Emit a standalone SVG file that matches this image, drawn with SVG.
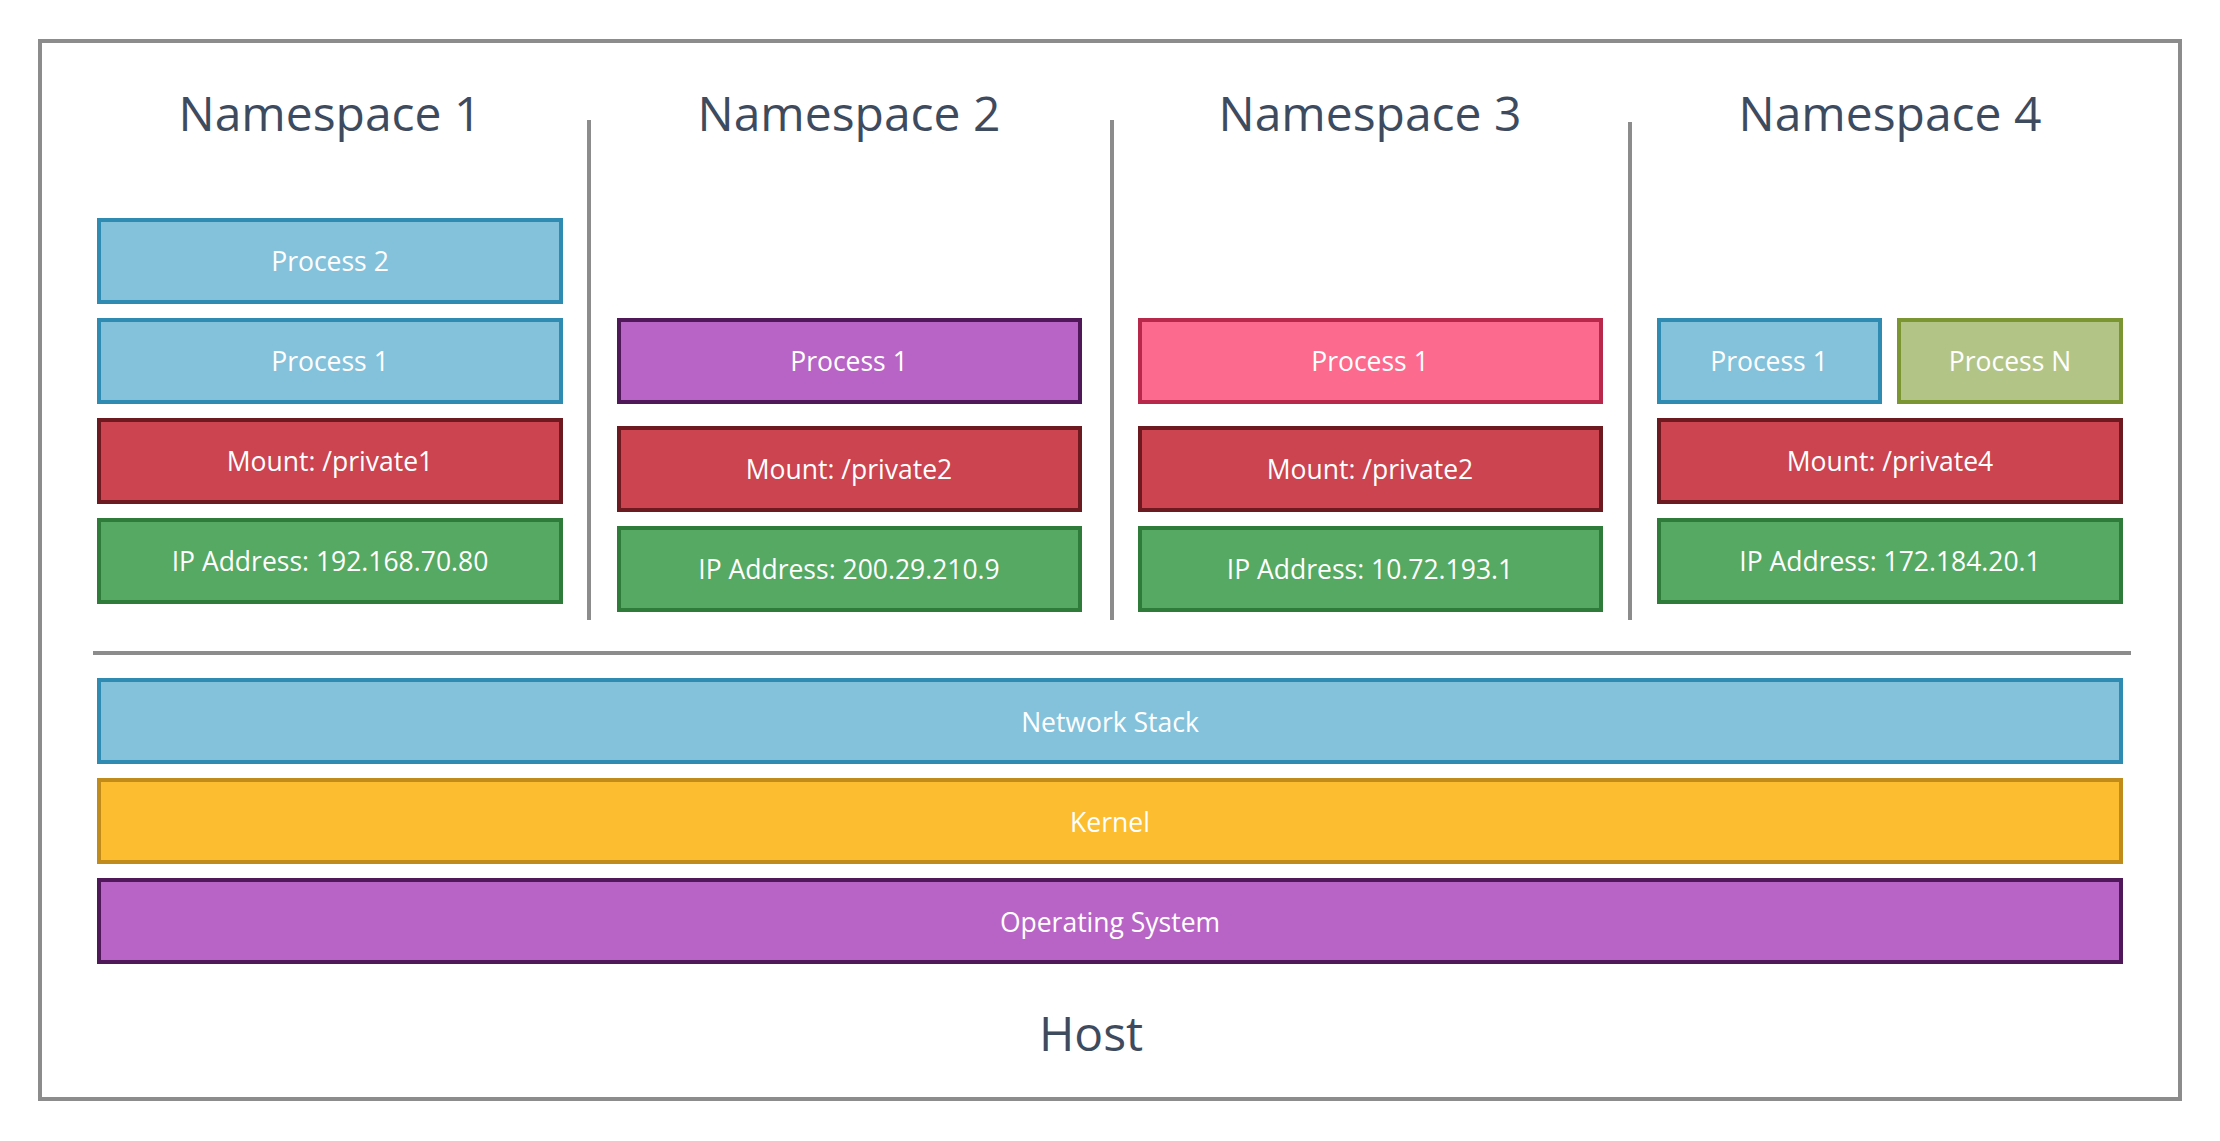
<svg xmlns="http://www.w3.org/2000/svg" width="2220" height="1141" viewBox="0 0 2220 1141">
<style>
  .title { font-family: "Open Sans", "Noto Sans", sans-serif; font-size: 48px; fill: #3e4b5e; text-anchor: middle; }
  .lbl { font-family: "Open Sans", "Noto Sans", sans-serif; font-size: 26.5px; fill: #ffffff; text-anchor: middle; }
  .box { stroke-width: 4; }
  .blue { fill: #84c2dc; stroke: #2f8bb1; }
  .purple { fill: #b864c6; stroke: #4f1859; }
  .pink { fill: #fc6a8d; stroke: #b8284a; }
  .red { fill: #cb444f; stroke: #6c1a1f; }
  .green { fill: #55a962; stroke: #2f7b39; }
  .olive { fill: #b2c587; stroke: #7a9532; }
  .orange { fill: #fcbd30; stroke: #c08b1b; }
  .line { stroke: #8c8c8c; stroke-width: 4; fill: none; }
</style>
<rect width="2220" height="1141" fill="#ffffff"/>
<g id="host">
  <rect class="line" x="40" y="41" width="2140" height="1058"/>
  <text class="title" x="1091" y="1051">Host</text>
</g>
<g id="connectors">
  <line class="line" x1="589" y1="120" x2="589" y2="620"/>
  <line class="line" x1="1112" y1="120" x2="1112" y2="620"/>
  <line class="line" x1="1630" y1="122" x2="1630" y2="620"/>
  <line class="line" x1="93" y1="653" x2="2131" y2="653"/>
</g>
<g id="ns1">
  <text class="title" x="330" y="131">Namespace 1</text>
  <g id="ns1-process2"><rect class="box blue" x="99" y="220" width="462" height="82"/><text class="lbl" x="330" y="271">Process 2</text></g>
  <g id="ns1-process1"><rect class="box blue" x="99" y="320" width="462" height="82"/><text class="lbl" x="330" y="371">Process 1</text></g>
  <g id="ns1-mount"><rect class="box red" x="99" y="420" width="462" height="82"/><text class="lbl" x="330" y="471">Mount: /private1</text></g>
  <g id="ns1-ip"><rect class="box green" x="99" y="520" width="462" height="82"/><text class="lbl" x="330" y="571">IP Address: 192.168.70.80</text></g>
</g>
<g id="ns2">
  <text class="title" x="849" y="131">Namespace 2</text>
  <g id="ns2-process1"><rect class="box purple" x="619" y="320" width="461" height="82"/><text class="lbl" x="849" y="371">Process 1</text></g>
  <g id="ns2-mount"><rect class="box red" x="619" y="428" width="461" height="82"/><text class="lbl" x="849" y="479">Mount: /private2</text></g>
  <g id="ns2-ip"><rect class="box green" x="619" y="528" width="461" height="82"/><text class="lbl" x="849" y="579">IP Address: 200.29.210.9</text></g>
</g>
<g id="ns3">
  <text class="title" x="1370" y="131">Namespace 3</text>
  <g id="ns3-process1"><rect class="box pink" x="1140" y="320" width="461" height="82"/><text class="lbl" x="1370" y="371">Process 1</text></g>
  <g id="ns3-mount"><rect class="box red" x="1140" y="428" width="461" height="82"/><text class="lbl" x="1370" y="479">Mount: /private2</text></g>
  <g id="ns3-ip"><rect class="box green" x="1140" y="528" width="461" height="82"/><text class="lbl" x="1370" y="579">IP Address: 10.72.193.1</text></g>
</g>
<g id="ns4">
  <text class="title" x="1890" y="131">Namespace 4</text>
  <g id="ns4-process1"><rect class="box blue" x="1659" y="320" width="221" height="82"/><text class="lbl" x="1769" y="371">Process 1</text></g>
  <g id="ns4-processN"><rect class="box olive" x="1899" y="320" width="222" height="82"/><text class="lbl" x="2010" y="371">Process N</text></g>
  <g id="ns4-mount"><rect class="box red" x="1659" y="420" width="462" height="82"/><text class="lbl" x="1890" y="471">Mount: /private4</text></g>
  <g id="ns4-ip"><rect class="box green" x="1659" y="520" width="462" height="82"/><text class="lbl" x="1890" y="571">IP Address: 172.184.20.1</text></g>
</g>
<g id="network-stack"><rect class="box blue" x="99" y="680" width="2022" height="82"/><text class="lbl" x="1110" y="732">Network Stack</text></g>
<g id="kernel"><rect class="box orange" x="99" y="780" width="2022" height="82"/><text class="lbl" x="1110" y="832">Kernel</text></g>
<g id="os"><rect class="box purple" x="99" y="880" width="2022" height="82"/><text class="lbl" x="1110" y="932">Operating System</text></g>
</svg>
